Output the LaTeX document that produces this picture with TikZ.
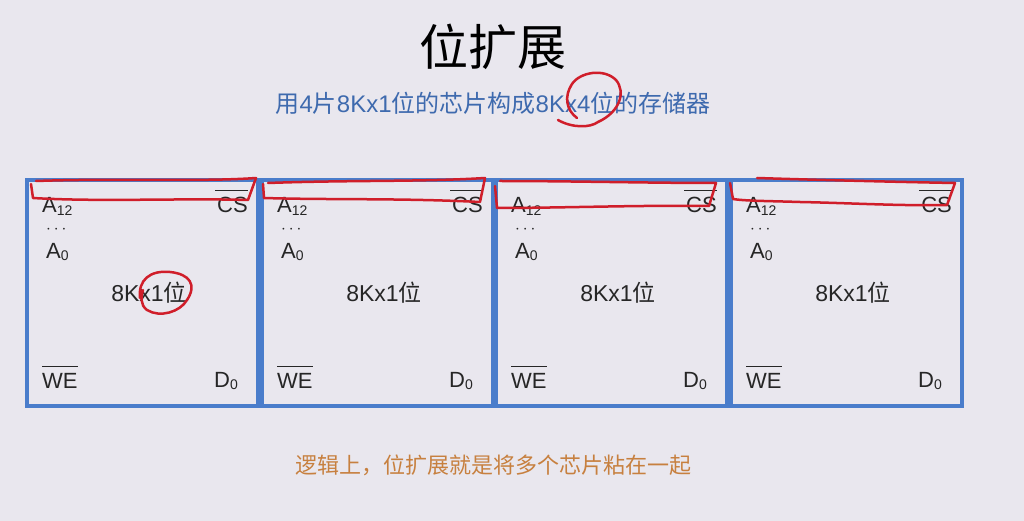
\documentclass[tikz,border=0pt]{standalone}
\usepackage{fontspec}
\setmainfont{Liberation Sans}
\newfontfamily\cjk{Noto Sans CJK SC}
\definecolor{bg}{RGB}{233,231,238}
\definecolor{chipblue}{RGB}{74,125,203}
\definecolor{subblue}{RGB}{62,106,174}
\definecolor{noteorange}{RGB}{199,128,63}
\definecolor{pen}{RGB}{208,30,42}
\tikzset{
  chip/.style={draw=chipblue, line width=4pt, minimum width=231pt, minimum height=226pt, inner sep=0pt},
  pin/.style={font=\fontsize{22}{24}\selectfont, inner sep=0pt, text=black!85},
  bar/.style={draw=black!85, line width=1pt},
  mark pen/.style={draw=pen, line width=2.5pt, line cap=round, line join=round},
}
\newcommand{\sub}[1]{\raisebox{-0.25ex}{\fontsize{14}{16}\selectfont #1}}
\begin{document}
\begin{tikzpicture}[x=1pt,y=-1pt]
\fill[bg] (0,0) rectangle (1024,521);
\useasboundingbox (0,0) rectangle (1024,521);

\node[font=\cjk\fontsize{49}{52}\selectfont, text=black, inner sep=0pt] (title) at (493,47) {位扩展};
\node[font=\fontsize{24}{26}\selectfont, text=subblue, inner sep=0pt] (sub) at (493,103) {{\cjk 用}4{\cjk 片}8Kx1{\cjk 位的芯片构成}8Kx4{\cjk 位的存储器}};
\node[font=\cjk\fontsize{22}{24}\selectfont, text=noteorange, inner sep=0pt] (note) at (493,465) {逻辑上，位扩展就是将多个芯片粘在一起};

\foreach \i/\L in {1/27,2/262,3/496,4/731}{
  \node[chip] (c\i) at (\L+115.5,293) {};
  \node[pin, anchor=west] (a12\i) at (\L+15,206) {A\sub{12}};
  \node[pin, anchor=west, font=\fontsize{16}{18}\selectfont] (dots\i) at (\L+19,230) {$\cdots$};
  \node[pin, anchor=west] (a0\i) at (\L+19,252) {A\sub{0}};
  \node[pin, font=\fontsize{23}{25}\selectfont] (lab\i) at (\L+122,293) {8Kx1{\cjk 位}};
  \node[pin, anchor=west] (we\i) at (\L+15,381) {WE};
  \draw[bar] ([yshift=7pt]we\i.north west) -- ([yshift=7pt]we\i.north east);
  \node[pin, anchor=east] (d0\i) at (\L+211,381) {D\sub{0}};
  \node[pin, anchor=east] (cs\i) at (\L+221,205) {CS};
  \draw[bar] ([yshift=7pt,xshift=-2pt]cs\i.north west) -- ([yshift=7pt]cs\i.north east);
}

% red hand annotations
\draw[mark pen] (36,181) .. controls (120,178) and (200,182) .. (256,178)
  -- (248,200) .. controls (180,198) and (100,202) .. (33,198) -- (31,184);
\draw[mark pen] (268,183) .. controls (350,180) and (420,182) .. (485,178)
  -- (480,202) .. controls (400,198) and (330,200) .. (264,198) -- (263,184);
\draw[mark pen] (500,181) .. controls (570,181) and (650,183) .. (716,183)
  -- (709,206) .. controls (640,205) and (560,208) .. (497,208) -- (495,186);
\draw[mark pen] (757,178) .. controls (820,180) and (900,182) .. (955,183)
  -- (947,205) .. controls (900,206) and (850,203) .. (800,202)
  .. controls (770,201) and (745,201) .. (733,199) -- (730,183);
% circle around 1位
\draw[mark pen] (140,298) .. controls (138,280) and (150,270) .. (170,272)
  .. controls (190,274) and (197,285) .. (187,300)
  .. controls (180,312) and (160,318) .. (147,310)
  .. controls (140,305) and (141,296) .. (143,290);
% circle around x4位
\draw[mark pen, xshift=-8pt] (566,120) .. controls (580,128) and (598,128) .. (606,122)
  .. controls (628,112) and (634,92) .. (624,80)
  .. controls (612,68) and (588,72) .. (580,84)
  .. controls (572,96) and (574,110) .. (585,118);
\end{tikzpicture}
\end{document}
